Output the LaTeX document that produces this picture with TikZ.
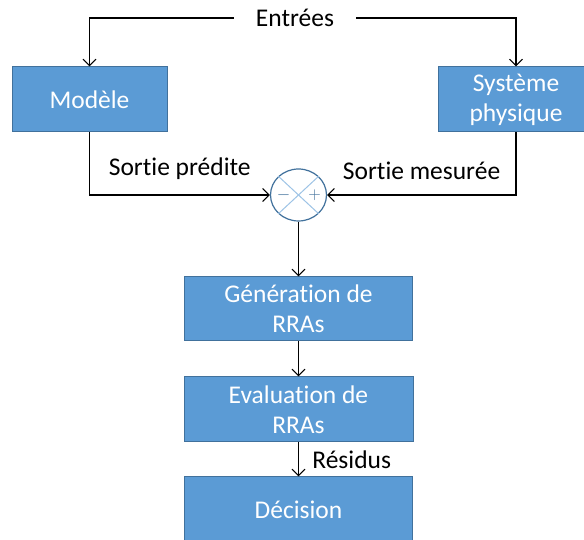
\documentclass[tikz,border=0pt]{standalone}
\usepackage{fontspec}
\setmainfont{Carlito}[Ligatures = NoCommon]
\usetikzlibrary{arrows.meta,shapes.geometric}

\definecolor{boxblue}{HTML}{5B9BD5}
\definecolor{boxedge}{HTML}{41719C}
\definecolor{crossblue}{HTML}{9DC3E6}

\tikzset{
	flowpicture/.style = {
		x = 1pt,
		y = 1pt,
		font = \fontsize{25.5}{30}\selectfont,
		>= {Straight Barb[length=6.5pt,width=13pt]},
		arrow/.style = {
			draw,
			->,
			line width = 1.1pt,
		}
	},
	blocknode/.style = {
		rectangle,
		draw = boxedge,
		fill = boxblue,
		text = white,
		line width = 1pt,
		align = center,
		inner sep = 0pt,
		minimum height = 65pt
	},
	sumnode/.style = {
		ellipse,
		draw = boxedge,
		fill = white,
		line width = 1.2pt,
		minimum width = 56pt,
		minimum height = 52pt,
		inner sep = 0pt
	},
	signnode/.style = {
		text = boxedge,
		font = \fontsize{19}{19}\selectfont,
		inner sep = 0pt
	}
}

\begin{document}
\begin{tikzpicture}[flowpicture]
	\useasboundingbox (0,0) rectangle (584,540);
	\clip (0,0) rectangle (584,540);

	\node[inner xsep = 22pt] (In) at (295,522) {Entrées};

	\node[blocknode, minimum width = 155pt] (M) at (89.5,440.5) {Modèle};
	\node[blocknode, minimum width = 156pt] (S) at (516,440.5) {Système\\physique};

	\node[sumnode] (Sum) at (298.5,345) {};
	\draw[crossblue, line width = 1pt] (Sum.north west) -- (Sum.south east);
	\draw[crossblue, line width = 1pt] (Sum.north east) -- (Sum.south west);
	\node[signnode] (Minus) at ([xshift=-15pt]Sum.center) {$-$};
	\node[signnode] (Plus) at ([xshift=16pt]Sum.center) {$+$};

	\node[blocknode, minimum width = 228pt, minimum height = 64pt] (G) at (298.5,231) {Génération de\\RRAs};
	\node[blocknode, minimum width = 229pt] (E) at (298.5,130.5) {Evaluation de\\RRAs};
	\node[blocknode, minimum width = 228pt, minimum height = 66pt] (D) at (298.5,30) {Décision};

	\begin{scope}[every path/.style = arrow]
		\path (In.west) -| (M);
		\path (In.east) -| (S);

		\path (M) |- node[pos=0.75, above=11pt] {Sortie prédite} (Sum);
		\path (S) |- node[pos=0.75, above=11pt] {Sortie mesurée} (Sum);

		\path (Sum) -- (G);
		\path (G) -- (E);
		\path (E) -- node[right=10pt] {Résidus} (D);
	\end{scope}
\end{tikzpicture}
\end{document}
